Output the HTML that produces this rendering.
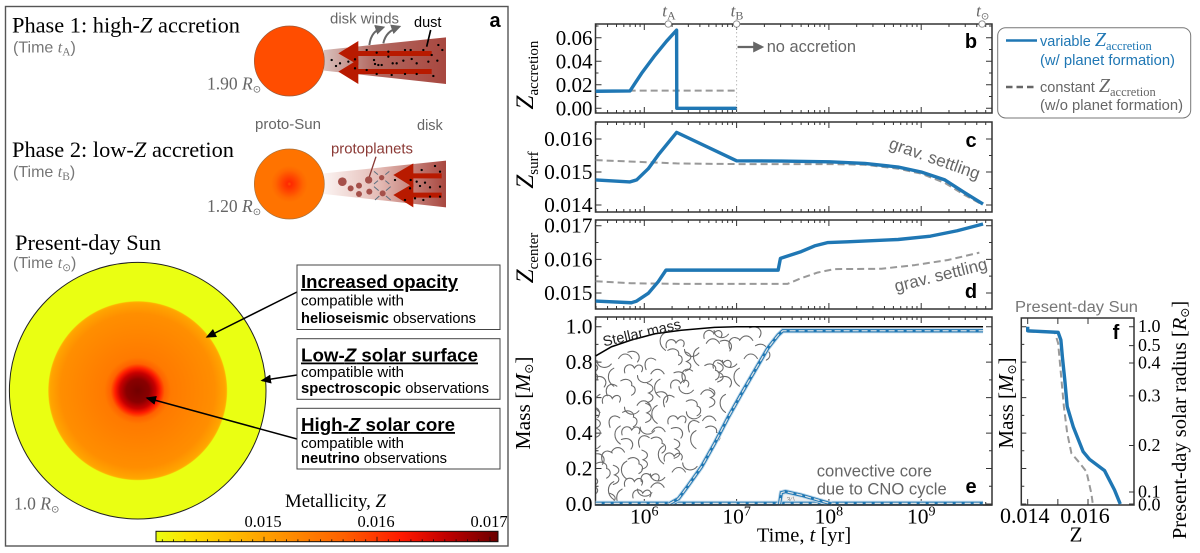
<!DOCTYPE html>
<html lang="en">
<head>
<meta charset="utf-8">
<title>Solar metallicity and planet formation</title>
<style>
html,body{margin:0;padding:0;background:#fff;width:1200px;height:553px;overflow:hidden}
svg{display:block;filter:blur(0.3px)}
.serif{font-family:"Liberation Serif",serif}
.sans{font-family:"Liberation Sans",sans-serif}
.sun{font-family:"DejaVu Sans",sans-serif}
</style>
</head>
<body>
<svg id="figure" xmlns="http://www.w3.org/2000/svg" width="1200" height="553" viewBox="0 0 1200 553">
<defs>
<linearGradient id="disk1" x1="0" x2="1" y1="0" y2="0"><stop offset="0" stop-color="#d9c0bc"/><stop offset=".4" stop-color="#b36a62"/><stop offset="1" stop-color="#a8473f"/></linearGradient>
<linearGradient id="disk2" x1="0" x2="1" y1="0" y2="0"><stop offset="0" stop-color="#fbf3f1"/><stop offset=".45" stop-color="#e4bcb6"/><stop offset="1" stop-color="#a8473f"/></linearGradient>
<radialGradient id="protoCore" cx=".5" cy=".5" r=".5"><stop offset="0" stop-color="#ff5000"/><stop offset=".12" stop-color="#ff2a00"/><stop offset=".4" stop-color="#ff4400"/><stop offset=".75" stop-color="#ff6600"/><stop offset="1" stop-color="#ff7300"/></radialGradient>
<radialGradient id="sunZ" gradientUnits="userSpaceOnUse" cx="137.7" cy="390.7" r="128.3">
<stop offset="0" stop-color="#720000"/><stop offset=".09" stop-color="#8a0000"/><stop offset=".14" stop-color="#c80000"/><stop offset=".175" stop-color="#ff1c00"/><stop offset=".21" stop-color="#ff6200"/><stop offset=".26" stop-color="#ff7a00"/><stop offset=".6" stop-color="#ff8e00"/><stop offset=".68" stop-color="#ffa400"/><stop offset=".692" stop-color="#ffb000"/><stop offset=".7" stop-color="#eaff12"/><stop offset="1" stop-color="#eaff12"/>
</radialGradient>
<linearGradient id="cbar" x1="0" x2="1" y1="0" y2="0"><stop offset="0" stop-color="#eaff12"/><stop offset=".1" stop-color="#ffe000"/><stop offset=".32" stop-color="#ffa000"/><stop offset=".55" stop-color="#ff6000"/><stop offset=".72" stop-color="#ff1800"/><stop offset=".85" stop-color="#c00000"/><stop offset="1" stop-color="#6a0000"/></linearGradient>
<marker id="blackHead" markerWidth="7" markerHeight="6" refX="6" refY="3" orient="auto"><path d="M0 0L7 3L0 6z" fill="#000"/></marker>
<marker id="greyHead" markerWidth="5" markerHeight="5" refX="4" refY="2.5" orient="auto"><path d="M0 0L5 2.5L0 5z" fill="#666"/></marker>
<clipPath id="panelEClip"><rect x="596" y="318" width="395" height="186"/></clipPath>
</defs>

<g id="panelA">
<rect x="5.5" y="6.5" width="502.5" height="539.5" fill="#fff" stroke="#555" stroke-width="1.4"/>
<text class="sans" x="495" y="27" font-size="20" font-weight="700" text-anchor="middle">a</text>

<text class="serif" x="12" y="32.5" font-size="22" textLength="228" lengthAdjust="spacingAndGlyphs">Phase 1: high-<tspan font-style="italic">Z</tspan> accretion</text>
<text class="sans" x="13" y="52.5" font-size="16" fill="#777">(Time <tspan class="serif" font-style="italic">t</tspan><tspan class="serif" font-size="11.5" dy="3">A</tspan><tspan dy="-3">)</tspan></text>
<text class="serif" x="12" y="157" font-size="22" textLength="222" lengthAdjust="spacingAndGlyphs">Phase 2: low-<tspan font-style="italic">Z</tspan> accretion</text>
<text class="sans" x="13" y="177" font-size="16" fill="#777">(Time <tspan class="serif" font-style="italic">t</tspan><tspan class="serif" font-size="11.5" dy="3">B</tspan><tspan dy="-3">)</tspan></text>
<text class="serif" x="15" y="250" font-size="22" textLength="146" lengthAdjust="spacingAndGlyphs">Present-day Sun</text>
<text class="sans" x="13" y="268" font-size="16" fill="#777">(Time <tspan class="serif" font-style="italic">t</tspan><tspan class="sun" font-size="10.5" dy="3">⊙</tspan><tspan dy="-3">)</tspan></text>

<g transform="scale(0.33333)">
<path d="M972 150L1338 112V252L972 212z" fill="url(#disk1)"/>
<circle cx="868" cy="183" r="105" fill="#ff4d00" stroke="#9a5a3a" stroke-width="2"/>
<g fill="#b81a00">
<path d="M1295 153V168H1075V195L1015 160L1075 123V153z"/>
<path d="M1295 207V222H1075V252L1015 215L1075 178V207z"/>
</g>
<path d="M1100 150h.1M1130 158h.1M1165 155h.1M1215 150h.1M1232 150h.1M1270 150h.1M1315 135h.1M1327 150h.1M1295 165h.1M1285 185h.1M1312 182h.1M1235 177h.1M1250 190h.1M1210 182h.1M1190 190h.1M1178 190h.1M1145 195h.1M1122 180h.1M1125 192h.1M1165 170h.1M1065 178h.1M1045 185h.1M995 180h.1M1020 190h.1M1008 198h.1M1065 205h.1M1100 210h.1M1130 222h.1M1175 225h.1M1215 222h.1M1250 222h.1M1300 228h.1M1135 195h.1" stroke="#000" stroke-width="7" stroke-linecap="round" fill="none"/>
<path d="M1108 135C1112 105 1125 90 1150 82" stroke="#666" stroke-width="6" fill="none" marker-end="url(#greyHead)"/>
<path d="M1150 130C1155 105 1170 90 1198 80" stroke="#666" stroke-width="6" fill="none" marker-end="url(#greyHead)"/>
<path d="M1292 90L1280 140" stroke="#000" stroke-width="5"/>

<path d="M972 520L1338 482V622L972 582z" fill="url(#disk2)"/>
<circle cx="868" cy="552" r="105" fill="#ff7300" stroke="#a8703a" stroke-width="2"/>
<circle cx="868" cy="552" r="55" fill="url(#protoCore)"/>
<g fill="#b81a00">
<path d="M1325 520V535H1240V562L1180 525L1240 490V520z"/>
<path d="M1325 578V593H1240V622L1180 585L1240 550V578z"/>
</g>
<path d="M1265 510h.1M1305 498h.1M1320 515h.1M1250 545h.1M1275 548h.1M1260 558h.1M1290 562h.1M1320 560h.1M1232 540h.1M1185 540h.1M1230 565h.1M1245 595h.1M1270 600h.1M1290 590h.1M1320 590h.1M1215 600h.1" stroke="#000" stroke-width="7" stroke-linecap="round" fill="none"/>
<g fill="#a5504a">
<circle cx="1027" cy="545" r="13"/><circle cx="1052" cy="565" r="9"/><circle cx="1077" cy="557" r="9"/><circle cx="1077" cy="582" r="9"/><circle cx="1106" cy="540" r="11"/><circle cx="1108" cy="575" r="9"/><circle cx="1145" cy="533" r="8"/><circle cx="1148" cy="580" r="9"/>
</g>
<path d="M1122 514L1134 524M1168 514L1156 524M1122 552L1134 542M1168 552L1156 542M1122 560L1136 572M1172 560L1158 572M1125 600L1138 588M1172 600L1158 588" stroke="#5c7080" stroke-width="3"/>
<path d="M1128 470L1108 530" stroke="#8a3a35" stroke-width="4"/>
</g>

<text class="sans" x="330" y="23.5" font-size="14.5" fill="#666" textLength="69" lengthAdjust="spacingAndGlyphs">disk winds</text>
<text class="sans" x="414" y="27" font-size="14.5" fill="#000">dust</text>
<text class="sans" x="255" y="129" font-size="14.5" fill="#666" textLength="66" lengthAdjust="spacingAndGlyphs">proto-Sun</text>
<text class="sans" x="417" y="130" font-size="14.5" fill="#666">disk</text>
<text class="sans" x="331" y="153.5" font-size="14.5" fill="#8b3a36" textLength="82" lengthAdjust="spacingAndGlyphs">protoplanets</text>
<text class="serif" x="207" y="89.5" font-size="17.5" fill="#666">1.90 <tspan font-style="italic">R</tspan><tspan class="sun" font-size="10" dy="3">⊙</tspan></text>
<text class="serif" x="207" y="212" font-size="17.5" fill="#666">1.20 <tspan font-style="italic">R</tspan><tspan class="sun" font-size="10" dy="3">⊙</tspan></text>

<circle cx="137.7" cy="390.7" r="128.3" fill="url(#sunZ)" stroke="#222" stroke-width="1"/>
<text class="serif" x="14" y="509.5" font-size="17.5" fill="#666">1.0 <tspan font-style="italic">R</tspan><tspan class="sun" font-size="10" dy="3">⊙</tspan></text>

<line x1="297" y1="292" x2="207" y2="337" stroke="#000" stroke-width="1.5" marker-end="url(#blackHead)"/>
<line x1="297" y1="375" x2="262" y2="380.5" stroke="#000" stroke-width="1.5" marker-end="url(#blackHead)"/>
<line x1="297" y1="439" x2="147" y2="398" stroke="#000" stroke-width="1.5" marker-end="url(#blackHead)"/>

<g>
<rect x="297" y="265" width="203" height="64.5" fill="#fff" stroke="#444" stroke-width="1"/>
<text class="sans" x="301" y="288" font-size="18" font-weight="700" text-decoration="underline" textLength="157" lengthAdjust="spacingAndGlyphs">Increased opacity</text>
<text class="sans" x="301" y="305.5" font-size="14.5" textLength="103" lengthAdjust="spacingAndGlyphs">compatible with</text>
<text class="sans" x="301" y="323" font-size="14.5" textLength="175" lengthAdjust="spacingAndGlyphs"><tspan font-weight="700">helioseismic</tspan> observations</text>
</g>
<g>
<rect x="297" y="338.7" width="203" height="60.6" fill="#fff" stroke="#444" stroke-width="1"/>
<text class="sans" x="301" y="361.5" font-size="18" font-weight="700" text-decoration="underline" textLength="177" lengthAdjust="spacingAndGlyphs">Low-<tspan font-style="italic">Z</tspan> solar surface</text>
<text class="sans" x="301" y="377" font-size="14.5" textLength="103" lengthAdjust="spacingAndGlyphs">compatible with</text>
<text class="sans" x="301" y="393" font-size="14.5" textLength="188" lengthAdjust="spacingAndGlyphs"><tspan font-weight="700">spectroscopic</tspan> observations</text>
</g>
<g>
<rect x="297" y="408.3" width="203" height="60.7" fill="#fff" stroke="#444" stroke-width="1"/>
<text class="sans" x="301" y="431" font-size="18" font-weight="700" text-decoration="underline" textLength="154" lengthAdjust="spacingAndGlyphs">High-<tspan font-style="italic">Z</tspan> solar core</text>
<text class="sans" x="301" y="448" font-size="14.5" textLength="103" lengthAdjust="spacingAndGlyphs">compatible with</text>
<text class="sans" x="301" y="463" font-size="14.5" textLength="146" lengthAdjust="spacingAndGlyphs"><tspan font-weight="700">neutrino</tspan> observations</text>
</g>

<text class="serif" x="285" y="507" font-size="18.5" textLength="101" lengthAdjust="spacingAndGlyphs">Metallicity, <tspan font-style="italic">Z</tspan></text>
<rect x="156" y="531.3" width="342" height="10.4" fill="url(#cbar)" stroke="#111" stroke-width="1"/>
<g id="cbarTicks"></g>
</g>

<g id="charts"></g>

<g>
<rect x="997.7" y="27.7" width="193" height="90.3" rx="8" fill="#fff" stroke="#777" stroke-width="1"/>
<line x1="1006" y1="40.5" x2="1037" y2="40.5" stroke="#1f77b4" stroke-width="2.6"/>
<text class="sans" x="1040" y="46" font-size="14.5" fill="#1f77b4">variable <tspan class="serif" font-style="italic" font-size="20">Z</tspan><tspan class="serif" font-size="12.5" dy="4">accretion</tspan></text>
<text class="sans" x="1040" y="65" font-size="14.5" fill="#1f77b4" textLength="135" lengthAdjust="spacingAndGlyphs">(w/ planet formation)</text>
<line x1="1006" y1="87" x2="1037" y2="87" stroke="#666" stroke-width="2.4" stroke-dasharray="6.5 4"/>
<text class="sans" x="1040" y="92" font-size="14.5" fill="#666">constant <tspan class="serif" font-style="italic" font-size="20">Z</tspan><tspan class="serif" font-size="12.5" dy="4">accretion</tspan></text>
<text class="sans" x="1040" y="110" font-size="14.5" fill="#666" textLength="143" lengthAdjust="spacingAndGlyphs">(w/o planet formation)</text>
</g>
</svg>

<script>
// ---- shared axis data ----
const timeDecades = [6, 7, 8, 9];
const timeMarkers = [6.26, 7.0, 9.66];
const timeMarkerNames = ['A', 'B', 'sun'];

// ---- panel b: Z accretion ----
const bTicks = [0, 0.02, 0.04, 0.06];
const bTickLabels = ['0.00', '0.02', '0.04', '0.06'];
const bVariableT = [5.473, 5.845, 5.97, 6.115, 6.24, 6.35, 6.352, 7.0];
const bVariableZ = [0.0145, 0.0148, 0.0297, 0.045, 0.057, 0.0665, 0, 0];
const bConstantT = [5.473, 7.0];
const bConstantZ = [0.015, 0.015];

// ---- panel c: Z surface ----
const cTicks = [0.014, 0.015, 0.016];
const cTickLabels = ['0.014', '0.015', '0.016'];
const cVariableT = [5.473, 5.845, 5.917, 6.043, 6.152, 6.35, 7.0, 7.487, 8.01, 8.39, 8.75, 9.0, 9.256, 9.473, 9.67];
const cVariableZ = [0.01476, 0.0147, 0.01476, 0.0151, 0.01552, 0.0162, 0.01534, 0.01533, 0.01531, 0.01526, 0.01515, 0.015, 0.01476, 0.01437, 0.01403];
const cConstantT = [5.473, 6.35, 7.0, 8.01, 8.39, 8.75, 9.0, 9.256, 9.473, 9.65];
const cConstantZ = [0.01536, 0.01526, 0.01524, 0.01524, 0.01522, 0.0151, 0.01495, 0.01467, 0.0143, 0.01403];

// ---- panel d: Z center ----
const dTicks = [0.015, 0.016, 0.017];
const dTickLabels = ['0.015', '0.016', '0.017'];
const dVariableT = [5.473, 5.86, 5.917, 6.043, 6.152, 6.235, 7.45, 7.475, 7.52, 7.70, 7.845, 7.99, 8.2, 8.75, 9.1, 9.39, 9.67];
const dVariableZ = [0.01476, 0.01471, 0.01476, 0.01499, 0.01534, 0.01568, 0.01568, 0.01603, 0.01607, 0.01623, 0.0164, 0.0165, 0.01652, 0.01659, 0.01669, 0.01685, 0.01705];
const dConstantT = [5.473, 5.86, 6.4, 7.55, 7.70, 7.88, 8.06, 8.57, 8.93, 9.29, 9.63];
const dConstantZ = [0.01535, 0.01529, 0.01527, 0.01527, 0.01544, 0.01561, 0.01571, 0.01572, 0.01583, 0.01598, 0.0162];

// ---- panel e: mass coordinate ----
const eTicks = [0, 0.2, 0.4, 0.6, 0.8, 1.0];
const eTickLabels = ['0.0', '0.2', '0.4', '0.6', '0.8', '1.0'];
const stellarT = [5.473, 5.645, 5.86, 6.115, 6.4, 6.76, 7.0, 9.67];
const stellarM = [0.835, 0.887, 0.925, 0.96, 0.98, 0.996, 1.0, 1.0];
const envelopeT = [6.267, 6.37, 6.47, 6.62, 6.76, 6.91, 7.05, 7.2, 7.34, 7.45, 7.5, 9.67];
const envelopeM = [0.0, 0.03, 0.1, 0.21, 0.34, 0.49, 0.62, 0.755, 0.88, 0.953, 0.977, 0.977];
const baseT = [5.473, 9.67];
const baseM = [0.004, 0.004];
const coreT = [7.465, 7.485, 7.53, 7.70, 8.03];
const coreM = [0.0, 0.064, 0.07, 0.05, 0.0];
const coreLabels = ['convective core', 'due to CNO cycle'];
// rows of convective texture: mass, first log t, last log t
const convectionRows = [[0.96,6.72,7.36],[0.89,6.2,7.22],[0.81,5.6,7.16],[0.73,5.5,7.06],[0.65,5.5,6.98],[0.57,5.5,6.9],[0.49,5.5,6.82],[0.41,5.52,6.72],[0.33,5.5,6.64],[0.25,5.5,6.52],[0.17,5.5,6.42],[0.09,5.5,6.3],[0.03,5.6,6.1]];
const convectionNudge = [0.02, -0.03, 0.05, -0.01, 0.03, -0.04, 0.0, 0.04];

// ---- panel f: present-day profile ----
const fTicks = [0.014, 0.015, 0.016];
const fTickLabels = ['0.014', '', '0.016'];
const fRadiusMass = [1.0, 0.893, 0.795, 0.61, 0.33, 0.068, 0.0];
const fRadiusLabels = ['1.0', '0.5', '0.4', '0.3', '0.2', '0.1', '0.0'];
const fVariableZ = [0.014, 0.014, 0.01501, 0.0151, 0.01515, 0.01523, 0.01531, 0.01551, 0.01584, 0.01605, 0.01655, 0.01688, 0.01707];
const fVariableM = [1.0, 0.977, 0.968, 0.925, 0.83, 0.70, 0.55, 0.436, 0.295, 0.252, 0.188, 0.079, 0.0];
const fConstantZ = [0.014, 0.0149, 0.01501, 0.01512, 0.0152, 0.01531, 0.01545, 0.01573, 0.01595, 0.01611, 0.01616];
const fConstantM = [0.972, 0.968, 0.906, 0.70, 0.55, 0.40, 0.286, 0.23, 0.182, 0.06, 0.0];

// ---- colorbar ----
const cbarTicks = [0.015, 0.016, 0.017];
const cbarLabels = ['0.015', '0.016', '0.017'];

const NS = 'http://www.w3.org/2000/svg';
const BLUE = '#1f77b4', GREY = '#999';
const root = document.getElementById('charts');

function make(tag, attrs, parent, name) {
  const el = document.createElementNS(NS, tag);
  for (const k in attrs) el.setAttribute(k, attrs[k]);
  
  
  parent.appendChild(el);
  return el;
}
function label(str, attrs, parent, name) {
  const el = make('text', attrs, parent, name);
  el.textContent = str;
  return el;
}
function linear(v1, p1, v2, p2) {
  return v => p1 + (v - v1) * (p2 - p1) / (v2 - v1);
}
function linePath(xs, ys, fx, fy) {
  return xs.map((x, i) => (i ? 'L' : 'M') + fx(x).toFixed(2) + ' ' + fy(ys[i]).toFixed(2)).join('');
}

const xTime = linear(6, 644.3, 7, 736.6);
const PX0 = 595.5, PX1 = 992;

function frame(name, top, bottom, yScale, ticks, labels, minorStep, tickSize) {
  const g = make('g', {}, root, name);
  make('rect', {x: PX0, y: top, width: PX1 - PX0, height: bottom - top, fill: '#fff', stroke: '#333', 'stroke-width': 1.5}, g, name + '-frame');
  let d = '';
  timeDecades.concat([5]).forEach(dec => {
    for (let m = 1; m < 10; m++) {
      const x = xTime(dec + Math.log10(m));
      if (x <= PX0 || x >= PX1) continue;
      const len = m === 1 ? 6 : 3;
      d += 'M' + x + ' ' + bottom + 'v' + (-len) + 'M' + x + ' ' + top + 'v' + len;
    }
  });
  ticks.forEach((t, i) => {
    const y = yScale(t);
    d += 'M' + PX0 + ' ' + y + 'h6M' + PX1 + ' ' + y + 'h-6';
    label(labels[i], {x: PX0 - 3, y: y + 7, 'font-size': tickSize, 'text-anchor': 'end', class: 'serif'}, g, name + '-tick-label');
    if (i < ticks.length - 1 || minorStep) {
      const half = yScale(t + minorStep);
      if (half > top + 1 && half < bottom - 1) d += 'M' + PX0 + ' ' + half + 'h3M' + PX1 + ' ' + half + 'h-3';
      const back = yScale(t - minorStep);
      if (i === 0 && back > top + 1 && back < bottom - 1) d += 'M' + PX0 + ' ' + back + 'h3M' + PX1 + ' ' + back + 'h-3';
    }
  });
  make('path', {d: d, stroke: '#333', 'stroke-width': 1, fill: 'none'}, g, name + '-ticks');
  return g;
}
function series(g, xs, ys, fx, fy, variable, name) {
  make('path', {d: linePath(xs, ys, fx, fy), fill: 'none', stroke: variable ? BLUE : GREY, 'stroke-width': variable ? 3.4 : 2, 'stroke-dasharray': variable ? 'none' : '7 4', 'stroke-linejoin': 'round'}, g, name);
}
function zTitle(g, x, y, sub, name) {
  const t = make('text', {transform: 'translate(' + x + ' ' + y + ') rotate(-90)', 'text-anchor': 'middle', class: 'serif', 'font-size': 25}, g, name);
  const a = make('tspan', {'font-style': 'italic'}, t, name + '-z');
  a.textContent = 'Z';
  const b = make('tspan', {'font-size': 15, dy: 5}, t, name + '-subscript');
  b.textContent = sub;
}

// panel b
const yB = linear(0, 108.3, 0.06, 37.8);
const gB = frame('panel-b', 24, 113, yB, bTicks, bTickLabels, 0.01, 21);
make('line', {x1: xTime(7), x2: xTime(7), y1: 24, y2: 113, stroke: '#bbb', 'stroke-width': 1, 'stroke-dasharray': '1.5 2.5'}, gB, 'time-b-guide');
series(gB, bConstantT, bConstantZ, xTime, yB, false, 'b-constant-line');
series(gB, bVariableT, bVariableZ, xTime, yB, true, 'b-variable-line');
zTitle(gB, 533, 75, 'accretion', 'b-y-title');
label('b', {x: 971, y: 48, class: 'sans', 'font-size': 20, 'font-weight': 700, 'text-anchor': 'middle'}, gB, 'panel-b-label');
make('line', {x1: xTime(7) + 1, y1: 47, x2: 762, y2: 47, stroke: '#666', 'stroke-width': 2.2, 'marker-end': 'url(#greyHead)'}, gB, 'no-accretion-arrow');
label('no accretion', {x: 766.7, y: 52, class: 'sans', 'font-size': 16.4, fill: '#666'}, gB, 'no-accretion-label');
timeMarkers.forEach((t, i) => {
  make('circle', {cx: xTime(t), cy: 24, r: 3.2, fill: '#fff', stroke: '#888', 'stroke-width': 0.9}, gB, 'time-marker-' + timeMarkerNames[i]);
  const lab = make('text', {x: xTime(t) - 6, y: 16.5, class: 'serif', 'font-size': 17, 'font-style': 'italic', fill: '#666'}, gB, 'time-label-' + timeMarkerNames[i]);
  lab.textContent = 't';
  const sub = make('tspan', {'font-style': 'normal', 'font-size': i === 2 ? 10 : 12, dy: 3, class: i === 2 ? 'sun' : 'serif'}, lab, 'time-label-subscript');
  sub.textContent = i === 0 ? 'A' : i === 1 ? 'B' : '⊙';
});

// panel c
const yC = linear(0.014, 205, 0.016, 139);
const gC = frame('panel-c', 122, 212, yC, cTicks, cTickLabels, 0.0005, 21.5);
series(gC, cConstantT, cConstantZ, xTime, yC, false, 'c-constant-line');
series(gC, cVariableT, cVariableZ, xTime, yC, true, 'c-variable-line');
zTitle(gC, 533, 170, 'surf', 'c-y-title');
label('c', {x: 971, y: 147, class: 'sans', 'font-size': 20, 'font-weight': 700, 'text-anchor': 'middle'}, gC, 'panel-c-label');
label('grav. settling', {transform: 'translate(888 148) rotate(19.4)', class: 'sans', 'font-size': 17, fill: '#666'}, gC, 'c-settling-label');

// panel d
const yD = linear(0.015, 293, 0.017, 225.7);
const gD = frame('panel-d', 220, 309, yD, dTicks, dTickLabels, 0.0005, 21.5);
series(gD, dConstantT, dConstantZ, xTime, yD, false, 'd-constant-line');
series(gD, dVariableT, dVariableZ, xTime, yD, true, 'd-variable-line');
zTitle(gD, 533, 258, 'center', 'd-y-title');
label('d', {x: 971, y: 298, class: 'sans', 'font-size': 20, 'font-weight': 700, 'text-anchor': 'middle'}, gD, 'panel-d-label');
label('grav. settling', {transform: 'translate(896 292) rotate(-14)', class: 'sans', 'font-size': 17, fill: '#666'}, gD, 'd-settling-label');

// panel e
const yE = linear(0, 504, 1, 326.7);
const gE = frame('panel-e', 317, 505, yE, eTicks, eTickLabels, 0.1, 21.5);
const SQUIGGLES = [
  'M-7 3c-2-7 6-9 8-4c3-5 9-2 6 3',
  'M-6-5c7-3 12 3 8 8',
  'M-2-8c6 2 6 6 1 8c5 2 5 6-1 8',
  'M-8 0c0 6 8 8 12 3',
  'M-7 5c-3-8 3-12 8-8',
  'M0-8c-6 3-6 11 0 15',
  'M-6 2c3-5 8-5 11 0',
  'M-5-4c5-3 10 0 9 4c4 1 4 6 0 8'
];
let idx = 0;
const gTex = make('g', {fill: 'none', stroke: '#6a6a6a', 'stroke-width': 0.9, 'stroke-linecap': 'round', 'clip-path': 'url(#panelEClip)'}, gE, 'convective-envelope-texture');
convectionRows.forEach((row, r) => {
  for (let t = row[1]; t <= row[2]; t += 0.17) {
    const nudge = convectionNudge[idx % convectionNudge.length];
    const cx = xTime(t + nudge);
    const cy = yE(row[0] + convectionNudge[(idx + 3) % convectionNudge.length] * 0.6);
    make('path', {d: SQUIGGLES[(idx * 3 + r) % SQUIGGLES.length], transform: 'translate(' + cx.toFixed(1) + ' ' + cy.toFixed(1) + ') scale(1.2)'}, gTex, 'convection-squiggle');
    idx++;
  }
});
make('path', {d: linePath(coreT, coreM, xTime, yE) + 'Z', fill: '#f0f0f0', stroke: '#ddd', 'stroke-width': 4}, gE, 'convective-core-shade');
label('3∕∖', {x: xTime(7.54), y: yE(0.012), 'font-size': 7, fill: '#888', class: 'sans'}, gE, 'convective-core-texture');
make('path', {d: linePath(stellarT, stellarM, xTime, yE), fill: 'none', stroke: '#000', 'stroke-width': 1.5}, gE, 'stellar-mass-line');
[[baseT, baseM, 'base'], [coreT, coreM, 'core'], [envelopeT, envelopeM, 'envelope']].forEach(s => {
  make('path', {d: linePath(s[0], s[1], xTime, yE), fill: 'none', stroke: '#bcd6e8', 'stroke-width': 5}, gE, s[2] + '-boundary-halo');
  make('path', {d: linePath(s[0], s[1], xTime, yE), fill: 'none', stroke: BLUE, 'stroke-width': 3.2}, gE, s[2] + '-boundary-variable');
  make('path', {d: linePath(s[0], s[1], xTime, yE), fill: 'none', stroke: '#d8e0e4', 'stroke-width': 1.3, 'stroke-dasharray': '6 3'}, gE, s[2] + '-boundary-constant');
});
make('path', {d: 'M' + PX0 + ' 505H' + PX1, stroke: '#333', 'stroke-width': 1.5}, gE, 'panel-e-baseline');
timeDecades.forEach(dec => {
  const t = make('text', {x: xTime(dec), y: 523.5, 'text-anchor': 'middle', class: 'serif', 'font-size': 21.5}, gE, 'time-tick-label');
  t.textContent = '10';
  const sup = make('tspan', {'font-size': 14, dy: -8}, t, 'time-tick-exponent');
  sup.textContent = dec;
});
const xTitle = make('text', {x: 804, y: 541.5, 'text-anchor': 'middle', class: 'serif', 'font-size': 20.5}, gE, 'time-axis-title');
xTitle.innerHTML = 'Time, <tspan font-style="italic">t</tspan> [yr]';
const mTitle = make('text', {transform: 'translate(530 403) rotate(-90)', 'text-anchor': 'middle', class: 'serif', 'font-size': 21.5}, gE, 'mass-axis-title');
mTitle.innerHTML = 'Mass [<tspan font-style="italic">M</tspan><tspan class="sun" font-size="12" dy="3">⊙</tspan><tspan dy="-3">]</tspan>';
label('Stellar mass', {transform: 'translate(604 346.5) rotate(-13)', class: 'sans', 'font-size': 14.5, fill: '#222'}, gE, 'stellar-mass-label');
coreLabels.forEach((s, i) => {
  label(s, {x: 816.7, y: 476.7 + i * 17.7, class: 'sans', 'font-size': 16.6, fill: '#666'}, gE, 'convective-core-label');
});
label('e', {x: 971, y: 493, class: 'sans', 'font-size': 20, 'font-weight': 700, 'text-anchor': 'middle'}, gE, 'panel-e-label');

// panel f
const FX0 = 1021.3, FX1 = 1134, FY0 = 318, FY1 = 505;
const xF = linear(0.014, 1027.7, 0.016, 1088);
const yF = linear(0, 504, 1, 326.7);
const gF = make('g', {}, root, 'panel-f');
make('rect', {x: FX0, y: FY0, width: FX1 - FX0, height: FY1 - FY0, fill: '#fff', stroke: '#333', 'stroke-width': 1.5}, gF, 'panel-f-frame');
let fd = '';
fTicks.forEach((t, i) => {
  fd += 'M' + xF(t) + ' ' + FY1 + 'v-6M' + xF(t) + ' ' + FY0 + 'v6';
  if (fTickLabels[i]) label(fTickLabels[i], {x: xF(t) - 3, y: 523, 'text-anchor': 'middle', class: 'serif', 'font-size': 22}, gF, 'f-x-tick-label');
});
eTicks.forEach(m => {
  fd += 'M' + FX0 + ' ' + yF(m) + 'h5';
  fd += 'M' + FX0 + ' ' + yF(m - 0.1) + 'h3';
});
fRadiusMass.forEach((m, i) => {
  fd += 'M' + FX1 + ' ' + yF(m) + 'h-5';
  label(fRadiusLabels[i], {x: 1138, y: yF(m) + 5.5 + (i === 6 ? 1 : 0), class: 'serif', 'font-size': 18}, gF, 'f-radius-tick-label');
});
make('path', {d: fd, stroke: '#333', 'stroke-width': 1, fill: 'none'}, gF, 'panel-f-ticks');
make('path', {d: linePath(fConstantZ, fConstantM, xF, yF), fill: 'none', stroke: GREY, 'stroke-width': 2, 'stroke-dasharray': '7 4'}, gF, 'f-constant-line');
make('path', {d: linePath(fVariableZ, fVariableM, xF, yF), fill: 'none', stroke: BLUE, 'stroke-width': 3.4, 'stroke-linejoin': 'round'}, gF, 'f-variable-line');
label('Present-day Sun', {x: 1015, y: 312, class: 'sans', 'font-size': 15.5, fill: '#777', textLength: 123, lengthAdjust: 'spacingAndGlyphs'}, gF, 'f-title');
label('f', {x: 1116, y: 339, class: 'sans', 'font-size': 20, 'font-weight': 700, 'text-anchor': 'middle'}, gF, 'panel-f-label');
const fm = make('text', {transform: 'translate(1013 403) rotate(-90)', 'text-anchor': 'middle', class: 'serif', 'font-size': 21}, gF, 'f-mass-axis-title');
fm.innerHTML = 'Mass [<tspan font-style="italic">M</tspan><tspan class="sun" font-size="12" dy="3">⊙</tspan><tspan dy="-3">]</tspan>';
const fr = make('text', {transform: 'translate(1186 420) rotate(-90)', 'text-anchor': 'middle', class: 'serif', 'font-size': 20.5}, gF, 'f-radius-axis-title');
fr.innerHTML = 'Present-day solar radius [<tspan font-style="italic">R</tspan><tspan class="sun" font-size="12" dy="3">⊙</tspan><tspan dy="-3">]</tspan>';
const fz = make('text', {x: 1076, y: 541.7, 'text-anchor': 'middle', class: 'serif', 'font-size': 21, 'font-style': 'normal'}, gF, 'f-z-axis-title');
fz.textContent = 'Z';

// colorbar ticks
const xBar = linear(0.015, 264, 0.017, 490);
const gBar = document.getElementById('cbarTicks');
let bd = '';
cbarTicks.forEach((t, i) => {
  bd += 'M' + xBar(t) + ' 541.7v-5';
  label(cbarLabels[i], {x: xBar(t) - 1, y: 527, 'text-anchor': 'middle', class: 'serif', 'font-size': 16.5}, gBar, 'colorbar-tick-label');
});
for (let v = 0.014; v < 0.01705; v += 0.0001) {
  const x = xBar(v);
  if (x > 157 && x < 497) bd += 'M' + x + ' 541.7v-2.5';
}
make('path', {d: bd, stroke: '#111', 'stroke-width': 0.8, fill: 'none'}, gBar, 'colorbar-tick-marks');
</script>
</body>
</html>
